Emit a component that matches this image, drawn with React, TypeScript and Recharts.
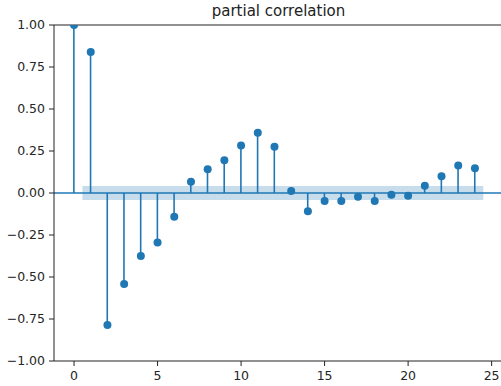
import {
  ComposedChart,
  Bar,
  Scatter,
  XAxis,
  YAxis,
  ReferenceLine,
  ReferenceArea,
} from "recharts";

const lags = [0, 1, 2, 3, 4, 5, 6, 7, 8, 9, 10, 11, 12, 13, 14, 15, 16, 17, 18, 19, 20, 21, 22, 23, 24];
const pacf = [
  1.0, 0.84, -0.786, -0.542, -0.375, -0.294, -0.141, 0.067, 0.141, 0.195, 0.282, 0.359, 0.276,
  0.012, -0.109, -0.048, -0.048, -0.022, -0.048, -0.01, -0.016, 0.043, 0.099, 0.163, 0.147,
];
const confBand = 0.042;
const xTicks = [0, 5, 10, 15, 20, 25];
const yTicks = [-1, -0.75, -0.5, -0.25, 0, 0.25, 0.5, 0.75, 1];

const BLUE = "#1f77b4";

const data = lags.map((lag, i) => ({ lag, value: pacf[i] }));

const fmt = (v: number) => {
  const s = Math.abs(v).toFixed(2);
  return v < 0 ? "\u2212" + s : s;
};

// vertical stem from zero to the value
const Stem = (props: any) => {
  const { x, y, width, height } = props;
  const cx = x + width / 2;
  return <line x1={cx} x2={cx} y1={y} y2={y + height} stroke={BLUE} strokeWidth={1.6} />;
};

export default function App() {
  const font = "'DejaVu Sans', sans-serif";
  return (
    <div style={{ position: "absolute", left: 0, top: 0, width: 501, height: 386, overflow: "hidden", background: "#fff" }}>
      <div
        style={{
          position: "absolute",
          left: 0,
          width: 557,
          top: 2,
          textAlign: "center",
          fontFamily: font,
          fontSize: 15,
          color: "#222",
        }}
      >
        partial correlation
      </div>
      <ComposedChart
        width={520}
        height={386}
        data={data}
        margin={{ top: 25, right: 15, bottom: 0, left: 0 }}
      >
        <XAxis
          dataKey="lag"
          type="number"
          domain={[-1.2, 25.8]}
          ticks={xTicks}
          allowDataOverflow
          height={25}
          tickSize={5}
          tickLine={{ stroke: "#222" }}
          axisLine={{ stroke: "#222" }}
          tick={{ fill: "#262626", fontSize: 12.5, fontFamily: font }}
          tickMargin={5}
        />
        <YAxis
          type="number"
          domain={[-1, 1]}
          ticks={yTicks}
          allowDataOverflow
          width={54}
          tickSize={5}
          tickLine={{ stroke: "#222" }}
          axisLine={{ stroke: "#222" }}
          tickFormatter={fmt}
          tick={{ fill: "#262626", fontSize: 12.5, fontFamily: font }}
          tickMargin={4}
        />
        <ReferenceArea
          x1={0.5}
          x2={24.5}
          y1={-confBand}
          y2={confBand}
          fill={BLUE}
          fillOpacity={0.25}
          stroke="none"
        />
        <Bar dataKey="value" shape={<Stem />} isAnimationActive={false} />
        <ReferenceLine y={0} stroke={BLUE} strokeWidth={1.5} />
        <Scatter dataKey="value" fill={BLUE} shape={(p: any) => <circle cx={p.cx} cy={p.cy} r={4} fill={BLUE} />} isAnimationActive={false} />
        <ReferenceLine y={1} stroke="#222" strokeWidth={1} />
      </ComposedChart>
    </div>
  );
}
